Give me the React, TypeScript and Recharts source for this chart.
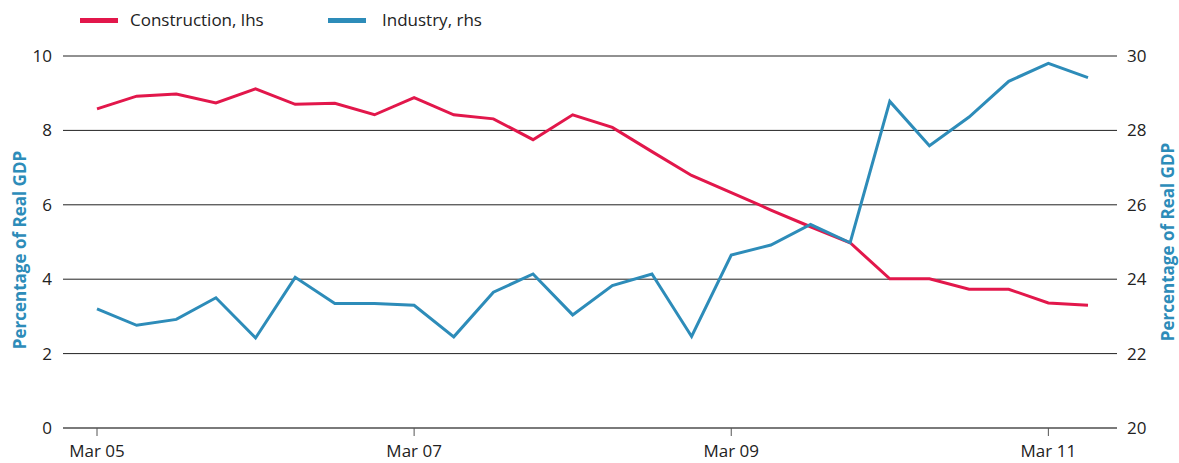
import React from "react";
import { LineChart, Line, XAxis, YAxis, CartesianGrid } from "recharts";

const quarters = [
  "Mar 05", "Jun 05", "Sep 05", "Dec 05",
  "Mar 06", "Jun 06", "Sep 06", "Dec 06",
  "Mar 07", "Jun 07", "Sep 07", "Dec 07",
  "Mar 08", "Jun 08", "Sep 08", "Dec 08",
  "Mar 09", "Jun 09", "Sep 09", "Dec 09",
  "Mar 10", "Jun 10", "Sep 10", "Dec 10",
  "Mar 11", "Jun 11",
];

const construction = [
  8.58, 8.92, 8.98, 8.74, 9.12, 8.7, 8.73, 8.42, 8.88, 8.42, 8.31, 7.75, 8.42,
  8.08, 7.43, 6.79, 6.33, 5.86, 5.41, 4.98, 4.01, 4.01, 3.73, 3.73, 3.36, 3.3,
];

const industry = [
  23.2, 22.76, 22.92, 23.5, 22.42, 24.05, 23.35, 23.35, 23.3, 22.45, 23.65,
  24.14, 23.04, 23.83, 24.14, 22.46, 24.65, 24.92, 25.47, 24.98, 28.78, 27.59,
  28.36, 29.32, 29.8, 29.42,
];

const xTicks = ["Mar 05", "Mar 07", "Mar 09", "Mar 11"];
const leftTicks = [0, 2, 4, 6, 8, 10];
const rightTicks = [20, 22, 24, 26, 28, 30];

const seriesNames = ["Construction, lhs", "Industry, rhs"];
const axisTitle = "Percentage of Real GDP";

const RED = "#E2174B";
const BLUE = "#2D8CB9";
const FONT = "'Open Sans', 'Noto Sans', sans-serif";

const data = quarters.map((q, i) => ({
  q,
  construction: construction[i],
  industry: industry[i],
}));

const makeTitle = (side: "left" | "right") => (props: any) => {
  const vb = props.viewBox || {};
  const cy = (vb.y ?? 56) + (vb.height ?? 372) / 2 + (side === "left" ? 8 : 0);
  const cx = side === "left" ? 19 : 1167;
  return (
    <text
      x={cx}
      y={cy}
      transform={`rotate(-90, ${cx}, ${cy})`}
      textAnchor="middle"
      dominantBaseline="central"
      fill={BLUE}
      fontFamily={FONT}
      fontWeight={700}
      fontSize={17}
    >
      {axisTitle}
    </text>
  );
};

export default function App() {
  return (
    <div
      style={{
        position: "absolute",
        left: 0,
        top: 0,
        width: 1179,
        height: 463,
        background: "#fff",
        fontFamily: FONT,
      }}
    >
      <div
        style={{
          position: "absolute",
          left: 0,
          top: 0,
          width: 1179,
          height: 40,
          fontSize: 17,
          color: "#222",
        }}
      >
        <div style={{ position: "absolute", left: 80, top: 18, width: 38, height: 5, background: RED }} />
        <div style={{ position: "absolute", left: 130, top: 8, lineHeight: "24px", whiteSpace: "nowrap" }}>
          {seriesNames[0]}
        </div>
        <div style={{ position: "absolute", left: 328, top: 18, width: 38, height: 5, background: BLUE }} />
        <div style={{ position: "absolute", left: 382, top: 8, lineHeight: "24px", whiteSpace: "nowrap" }}>
          {seriesNames[1]}
        </div>
      </div>
      <LineChart
        width={1179}
        height={463}
        data={data}
        margin={{ top: 56, right: 0, bottom: 0, left: 0 }}
      >
        <CartesianGrid
          yAxisId="left"
          vertical={false}
          stroke="#222"
          strokeWidth={1}
        />
        <XAxis
          dataKey="q"
          ticks={xTicks}
          interval={0}
          height={35}
          padding={{ left: 34, right: 29 }}
          axisLine={{ stroke: "#7a7a7a", strokeWidth: 2 }}
          tickLine={{ stroke: "#555" }}
          tickSize={8}
          tickMargin={9}
          tick={{ fill: "#222", fontSize: 17, fontFamily: FONT }}
        />
        <YAxis
          yAxisId="left"
          orientation="left"
          width={63}
          domain={[0, 10]}
          ticks={leftTicks}
          axisLine={false}
          tickLine={false}
          tickSize={0}
          tickMargin={11}
          tick={{ fill: "#222", fontSize: 17, fontFamily: FONT }}
          label={{ content: makeTitle("left") }}
        />
        <YAxis
          yAxisId="right"
          orientation="right"
          width={62}
          domain={[20, 30]}
          ticks={rightTicks}
          axisLine={false}
          tickLine={false}
          tickSize={0}
          tickMargin={10}
          tick={{ fill: "#222", fontSize: 17, fontFamily: FONT, textAnchor: "start" }}
          label={{ content: makeTitle("right") }}
        />
        <Line
          yAxisId="left"
          dataKey="construction"
          name={seriesNames[0]}
          stroke={RED}
          strokeWidth={3}
          dot={false}
          isAnimationActive={false}
          strokeLinejoin="miter"
        />
        <Line
          yAxisId="right"
          dataKey="industry"
          name={seriesNames[1]}
          stroke={BLUE}
          strokeWidth={3}
          dot={false}
          isAnimationActive={false}
          strokeLinejoin="miter"
        />
      </LineChart>
    </div>
  );
}
